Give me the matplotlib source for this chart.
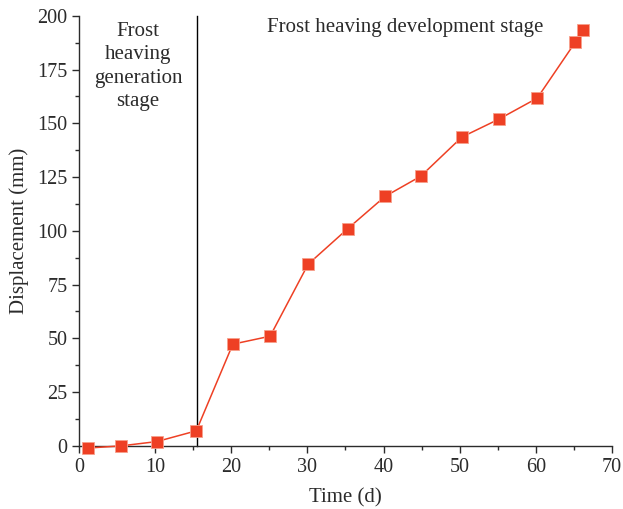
import matplotlib.pyplot as plt
from matplotlib.ticker import MultipleLocator

# frost heave displacement over time
time_d = [1.2, 5.5, 10.2, 15.4, 20.2, 25.1, 30.1, 35.3, 40.2, 44.9, 50.3, 55.2, 60.2, 65.2]
disp_mm = [-1, 0, 2, 7, 47.3, 51, 84.5, 101, 116, 125.4, 143.6, 152, 161.7, 187.7]
# last reading, plotted without connecting line
last_t = [66.2]
last_d = [193.3]
stage_split = 15.45

plt.rcParams['font.family'] = ['Liberation Serif', 'DejaVu Serif']
txt = '#2b2b2b'
red = '#ee4024'

fig = plt.figure(figsize=(6.23, 5.09), dpi=100)
ax = fig.add_axes([0.127, 0.124, 0.855, 0.845])

ax.plot(time_d, disp_mm, color=red, lw=1.1, marker='s', ms=8.5,
        mfc=red, mec='#f7a08c', mew=0.6, zorder=3)
ax.plot(last_t, last_d, ls='none', marker='s', ms=8.5,
        mfc=red, mec='#f7a08c', mew=0.6, zorder=3)
ax.axvline(stage_split, color='black', lw=1.0, zorder=2)

ax.set_xlim(0, 70)
ax.set_ylim(0, 200)
ax.xaxis.set_major_locator(MultipleLocator(10))
ax.xaxis.set_minor_locator(MultipleLocator(5))
ax.yaxis.set_major_locator(MultipleLocator(25))
ax.yaxis.set_minor_locator(MultipleLocator(12.5))

for s in ['top', 'right']:
    ax.spines[s].set_visible(False)
for s in ['left', 'bottom']:
    ax.spines[s].set_color(txt)
    ax.spines[s].set_linewidth(1.0)
ax.tick_params(which='major', direction='out', length=5, width=1, colors=txt,
               labelsize=14.5)
ax.tick_params(which='minor', direction='out', length=3, width=1, colors=txt)
for ln in ax.lines:
    ln.set_clip_on(False)

ax.set_xlabel('Time (d)', fontsize=15, color=txt, labelpad=8)
ax.set_ylabel('Displacement (mm)', fontsize=15, color=txt, labelpad=6)

ax.text(7.76, 176.5, 'Frost\nheaving\ngeneration\nstage', ha='center', va='center',
        fontsize=15, color=txt, linespacing=1.32)
ax.text(42.8, 194.7, 'Frost heaving development stage', ha='center', va='center',
        fontsize=15, color=txt)

fig.savefig('out.png', dpi=100)
